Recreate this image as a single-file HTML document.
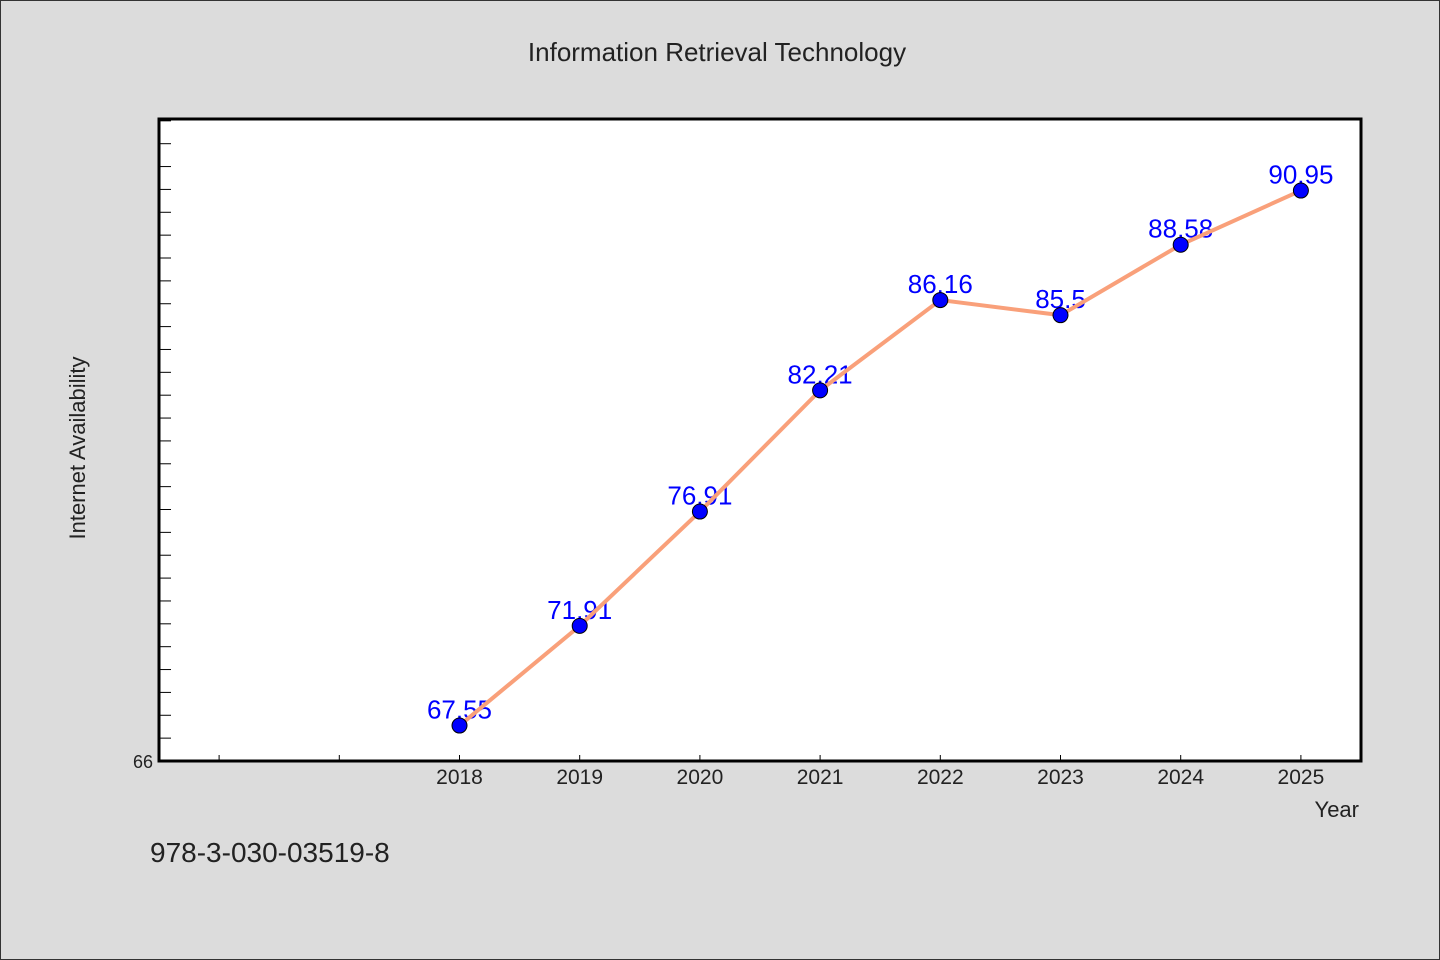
<!DOCTYPE html>
<html><head><meta charset="utf-8"><style>
html,body{margin:0;padding:0;background:#dcdcdc;}
svg{display:block;font-family:"WenQuanYi Zen Hei","Liberation Sans",sans-serif;}
</style></head><body>
<svg id="c" width="1440" height="960">
<rect x="0.5" y="0.5" width="1439" height="959" fill="#dcdcdc" stroke="#333"/>
<text x="717" y="61" font-size="26" text-anchor="middle" fill="#222">Information Retrieval Technology</text>
<rect x="159" y="119" width="1202" height="642" fill="#fff" stroke="#000" stroke-width="3"/>
<text transform="translate(85,448) rotate(-90)" font-size="22" text-anchor="middle" fill="#222">Internet Availability</text>
<text x="1359" y="817" font-size="22" text-anchor="end" fill="#222">Year</text>
<text x="150" y="862" font-size="28" fill="#222">978-3-030-03519-8</text>
<g id="g"></g>
</svg>
<script>
const years=[2018,2019,2020,2021,2022,2023,2024,2025];
const values=[67.55,71.91,76.91,82.21,86.16,85.5,88.58,90.95];
const labels=["67.55","71.91","76.91","82.21","86.16","85.5","88.58","90.95"];
const yMin=66,yMax=94.08,xMin=2015.5,xMax=2025.5;
const L=159,R=1361,T=119,B=761;
const sx=v=>L+(v-xMin)/(xMax-xMin)*(R-L);
const sy=v=>B-(v-yMin)/(yMax-yMin)*(B-T);
const g=document.getElementById('g');const NS='http://www.w3.org/2000/svg';
function mk(t,a){const e=document.createElementNS(NS,t);for(const k in a)e.setAttribute(k,a[k]);g.appendChild(e);return e;}
for(let v=yMin+1;v<yMax;v++){const e=mk('line',{x1:L,x2:L+12,y1:sy(v),y2:sy(v),stroke:'#000','stroke-width':1});

}
let t=mk('text',{x:L-6,y:B+7,'font-size':18,'text-anchor':'end',fill:'#222'});t.textContent='66';


for(let y=2016;y<=2025;y++){const e=mk('line',{x1:sx(y),x2:sx(y),y1:B,y2:B-6,stroke:'#000','stroke-width':1});

}
years.forEach(y=>{const e=mk('text',{x:sx(y),y:B+23,'font-size':21,'text-anchor':'middle',fill:'#222'});e.textContent=y;

});
years.forEach((y,i)=>{const e=mk('text',{x:sx(y),y:sy(values[i])-7,'font-size':26,'text-anchor':'middle',fill:'#0000ff'});e.textContent=labels[i];

});
const ln=mk('polyline',{points:years.map((y,i)=>sx(y)+','+sy(values[i])).join(' '),fill:'none',stroke:'#f9a07a','stroke-width':4});


years.forEach((y,i)=>{const e=mk('circle',{cx:sx(y),cy:sy(values[i]),r:7.5,fill:'#0000ff',stroke:'#000','stroke-width':1});

});
</script>
</body></html>
